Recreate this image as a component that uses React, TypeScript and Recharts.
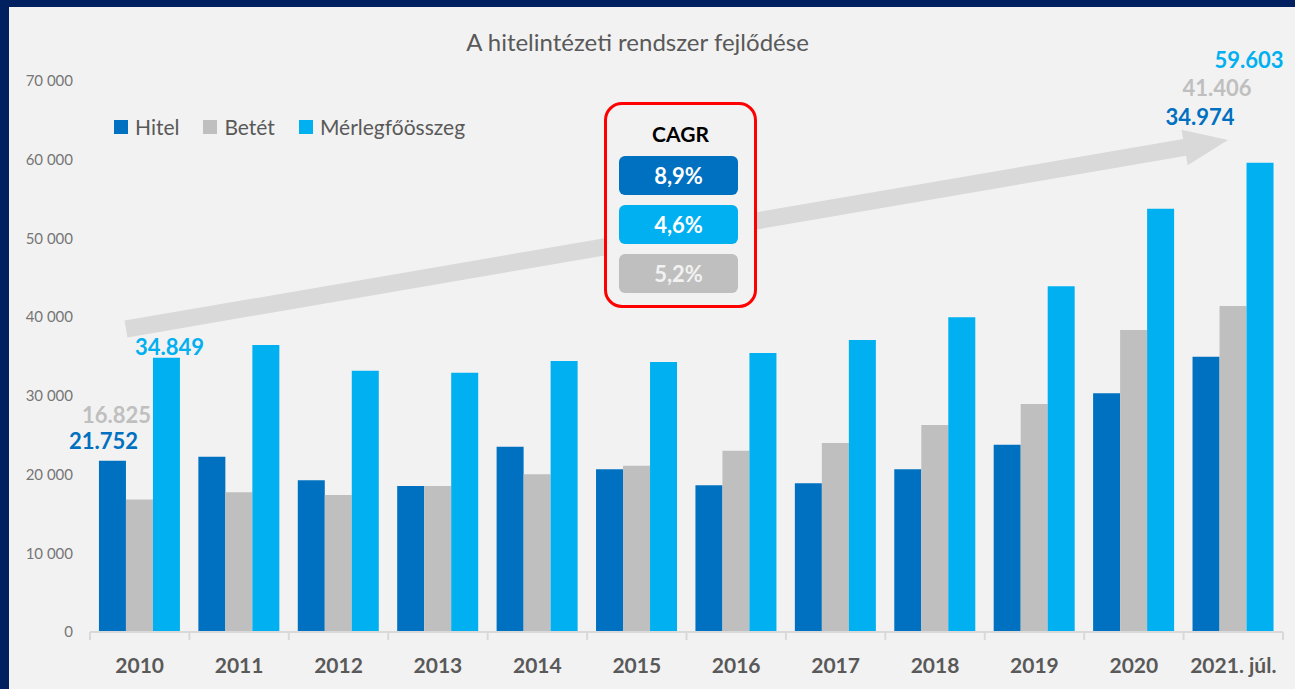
import React from 'react';
import { Bar, BarChart, LabelList, XAxis, YAxis } from 'recharts';

const years = ['2010', '2011', '2012', '2013', '2014', '2015', '2016', '2017', '2018', '2019', '2020', '2021. júl.'];
const hitel = [21752, 22270, 19270, 18550, 23540, 20670, 18630, 18890, 20670, 23800, 30330, 34974];
const betet = [16825, 17750, 17400, 18550, 20030, 21130, 23040, 24010, 26300, 28970, 38370, 41406];
const merleg = [34849, 36460, 33200, 32950, 34430, 34300, 35450, 37100, 39980, 43920, 53780, 59603];
const yTicks = [0, 10000, 20000, 30000, 40000, 50000, 60000, 70000];

const cagr = [
  { label: '8,9%', color: '#0070c0', text: '#ffffff' },
  { label: '4,6%', color: '#00b0f0', text: '#ffffff' },
  { label: '5,2%', color: '#bfbfbf', text: '#f2f2f2' },
];

const series = [
  { key: 'hitel', name: 'Hitel', color: '#0070c0' },
  { key: 'betet', name: 'Betét', color: '#bfbfbf' },
  { key: 'merleg', name: 'Mérlegfőösszeg', color: '#00b0f0' },
];

// manual label offsets (Excel-style hand placed), relative to bar top centre
const labelOffsets: Record<string, Record<number, [number, number]>> = {
  hitel: { 0: [-9, -20], 11: [-6, -240] },
  betet: { 0: [-23, -85], 11: [-16, -219] },
  merleg: { 0: [3, -11], 11: [-11, -103] },
};

const data = years.map((y, i) => ({ year: y, hitel: hitel[i], betet: betet[i], merleg: merleg[i] }));

const W = 1295;
const H = 689;
const FONT = 'Lato, "Open Sans", sans-serif';
const plotLeft = 90;
const plotRight = 12;
const band = (W - plotLeft - plotRight) / years.length;

const fmtTick = (v: number) => (v === 0 ? '0' : `${Math.round(v / 1000)} 000`);
const fmtLabel = (v: number) => (v / 1000).toFixed(3);

const XTick = (props: any) => {
  const { x, y, payload, index } = props;
  const left = x - band / 2;
  return (
    <g>
      <line x1={left} y1={y} x2={left} y2={y + 8} stroke="#d9d9d9" strokeWidth={2} />
      {index === years.length - 1 && (
        <line x1={x + band / 2} y1={y} x2={x + band / 2} y2={y + 8} stroke="#d9d9d9" strokeWidth={2} />
      )}
      <text x={x} y={y + 32} textAnchor="middle" dominantBaseline="central" fontFamily={FONT} fontWeight={700} fontSize={21} fill="#595959">
        {payload.value}
      </text>
    </g>
  );
};

const makeLabel = (key: string, color: string) => (props: any) => {
  const { x, y, width, value, index } = props;
  const off = labelOffsets[key][index];
  if (!off) return null;
  return (
    <text x={x + width / 2 + off[0]} y={y + off[1]} textAnchor="middle" dominantBaseline="central" fontFamily={FONT} fontWeight={700} fontSize={22} fill={color}>
      {fmtLabel(value)}
    </text>
  );
};

const LegendBox = () => (
  <div style={{ position: 'absolute', left: 114, top: 114, display: 'flex', alignItems: 'center', fontFamily: FONT, fontSize: 21, color: '#595959' }}>
    {series.map((s) => (
      <div key={s.key} style={{ display: 'flex', alignItems: 'center', marginRight: 24 }}>
        <span style={{ width: 14, height: 14, background: s.color, display: 'inline-block', marginRight: 7 }} />
        <span>{s.name}</span>
      </div>
    ))}
  </div>
);

const Arrow = () => {
  const tail = [126, 329];
  const tip = [1228, 140];
  const dx = tip[0] - tail[0];
  const dy = tip[1] - tail[1];
  const len = Math.hypot(dx, dy);
  const u = [dx / len, dy / len];
  const n = [-u[1], u[0]];
  const hw = 8.5;
  const headW = 18;
  const headL = 44;
  const b = [tip[0] - headL * u[0], tip[1] - headL * u[1]];
  const p = (c: number[], k: number) => `${c[0] + k * n[0]},${c[1] + k * n[1]}`;
  const pts = [p(tail, -hw), p(b, -hw), p(b, -headW), `${tip[0]},${tip[1]}`, p(b, headW), p(b, hw), p(tail, hw)].join(' ');
  return (
    <svg width={W} height={H} style={{ position: 'absolute', left: 0, top: 0 }}>
      <polygon points={pts} fill="#d9d9d9" />
    </svg>
  );
};

const CagrBox = () => (
  <div
    style={{
      position: 'absolute',
      left: 604,
      top: 102,
      width: 153,
      height: 206,
      boxSizing: 'border-box',
      border: '3px solid #ff0000',
      borderRadius: 18,
      background: '#f2f2f2',
      fontFamily: FONT,
    }}
  >
    <div style={{ position: 'absolute', left: 0, right: 0, top: 16, textAlign: 'center', fontWeight: 700, fontSize: 21, color: '#000' }}>CAGR</div>
    {cagr.map((c, i) => (
      <div
        key={c.label}
        style={{
          position: 'absolute',
          left: 12,
          top: 51 + i * 49,
          width: 119,
          height: 39,
          borderRadius: 6,
          background: c.color,
          color: c.text,
          fontWeight: 700,
          fontSize: 22,
          display: 'flex',
          alignItems: 'center',
          justifyContent: 'center',
        }}
      >
        {c.label}
      </div>
    ))}
  </div>
);

export default function App() {
  return (
    <div style={{ position: 'absolute', left: 0, top: 0, width: W, height: H, background: '#002060', overflow: 'hidden' }}>
      <div style={{ position: 'absolute', left: 9, top: 7, right: 0, bottom: 0, background: '#f2f2f2' }} />
      <Arrow />
      <div style={{ position: 'absolute', left: 0, right: 0, top: 27, textAlign: 'center', fontFamily: FONT, fontSize: 24, color: '#595959' }}>
        <span style={{ position: 'relative', left: -10 }}>A hitelintézeti rendszer fejlődése</span>
      </div>
      <div style={{ position: 'absolute', left: 0, top: 0 }}>
        <BarChart width={W} height={H} data={data} margin={{ top: 81, right: plotRight, bottom: 0, left: 0 }} barCategoryGap="9%" barGap={0}>
          <XAxis dataKey="year" height={57} axisLine={{ stroke: '#d9d9d9', strokeWidth: 2 }} tickLine={false} tickSize={0} tickMargin={0} tick={<XTick />} interval={0} />
          <YAxis
            width={plotLeft}
            domain={[0, 70000]}
            ticks={yTicks}
            axisLine={false}
            tickLine={false}
            tickSize={0}
            tickMargin={17}
            tickFormatter={fmtTick}
            tick={{ fontFamily: FONT, fontSize: 15, fill: '#767676' }}
          />
          {series.map((s) => (
            <Bar key={s.key} dataKey={s.key} name={s.name} fill={s.color} isAnimationActive={false}>
              <LabelList dataKey={s.key} content={makeLabel(s.key, s.color)} />
            </Bar>
          ))}
        </BarChart>
      </div>
      <LegendBox />
      <CagrBox />
    </div>
  );
}
